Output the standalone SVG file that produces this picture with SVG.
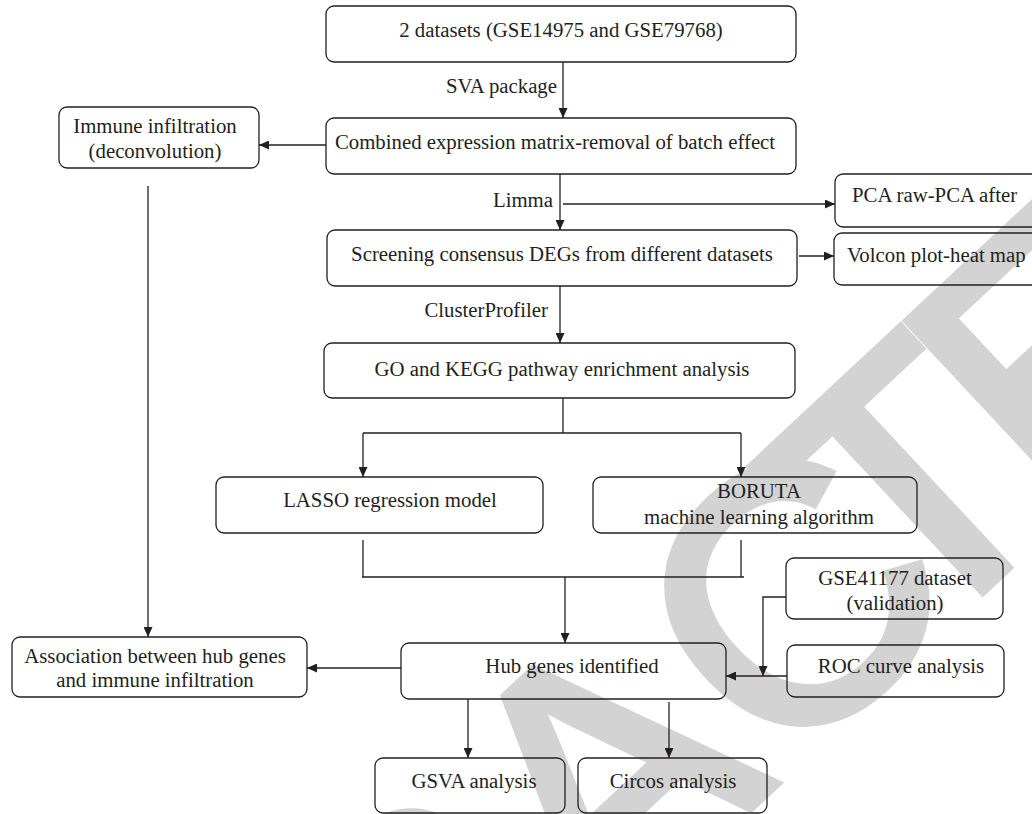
<svg xmlns="http://www.w3.org/2000/svg" width="1032" height="814" viewBox="0 0 1032 814">
<style>
.box{fill:none;stroke:#231f20;stroke-width:1.3}
.t{font-family:"Liberation Serif","Times New Roman",serif;font-size:20.8px;fill:#231f20}
.c{text-anchor:middle}
.e{text-anchor:end}
.ln{fill:none;stroke:#231f20;stroke-width:1.3}
.ar{marker-end:url(#ah)}
.wm{font-family:"Liberation Sans",Arial,sans-serif;font-size:360px;fill:#d3d3d3;stroke:#d3d3d3;stroke-width:10;stroke-linejoin:miter}
</style>
<defs>
<marker id="ah" viewBox="0 0 10 9" refX="10" refY="4.5" markerWidth="10" markerHeight="9" markerUnits="userSpaceOnUse" orient="auto">
<path d="M0,0 L10,4.5 L0,9 z" fill="#231f20"/>
</marker>
</defs>
<rect width="1032" height="814" fill="#ffffff"/>
<g id="watermark">
<text class="wm" transform="translate(876,690) rotate(-43)" x="-1357 -1097 -857 -637 -377 -130 53 246 486" y="0">RETRACTED</text>
</g>
<g id="connectors">
<path class="ln ar" d="M563,62 V118"/>
<path class="ln ar" d="M326,145 H259"/>
<path class="ln ar" d="M148,186 V637"/>
<path class="ln ar" d="M560,174 V230"/>
<path class="ln ar" d="M563,204 H835"/>
<path class="ln ar" d="M799,256 H834"/>
<path class="ln ar" d="M560,286 V343"/>
<path class="ln" d="M563,398 V433 M363,433 H741"/>
<path class="ln ar" d="M363,433 V477"/>
<path class="ln ar" d="M741,433 V477"/>
<path class="ln" d="M363,540 V577 M741,540 V577 M362,577 H744"/>
<path class="ln ar" d="M565,577 V643"/>
<path class="ln ar" d="M401,668 H307"/>
<path class="ln ar" d="M786,597 H763 V676"/>
<path class="ln ar" d="M787,676 H726"/>
<path class="ln ar" d="M468,699 V758"/>
<path class="ln ar" d="M669,702 V758"/>
</g>
<g id="datasets">
<rect class="box" x="326" y="6" width="470" height="56" rx="8"/>
<text class="t c" x="561" y="37">2 datasets (GSE14975 and GSE79768)</text>
</g>
<g id="sva-label"><text class="t e" x="557" y="93">SVA package</text></g>
<g id="combined">
<rect class="box" x="326" y="118" width="470" height="56" rx="8"/>
<text class="t c" x="555" y="149">Combined expression matrix-removal of batch effect</text>
</g>
<g id="immune">
<rect class="box" x="59" y="107" width="200" height="61" rx="8"/>
<text class="t c" x="155" y="133">Immune infiltration</text>
<text class="t c" x="155" y="158">(deconvolution)</text>
</g>
<g id="limma-label"><text class="t e" x="553" y="207">Limma</text></g>
<g id="pca">
<rect class="box" x="835" y="174" width="230" height="53" rx="8"/>
<text class="t" x="852" y="202">PCA raw-PCA after</text>
</g>
<g id="screening">
<rect class="box" x="327" y="230" width="470" height="56" rx="8"/>
<text class="t c" x="562" y="261">Screening consensus DEGs from different datasets</text>
</g>
<g id="volcon">
<rect class="box" x="834" y="233" width="230" height="52" rx="8"/>
<text class="t" x="847" y="262">Volcon plot-heat map</text>
</g>
<g id="cp-label"><text class="t e" x="548" y="317">ClusterProfiler</text></g>
<g id="go">
<rect class="box" x="324" y="343" width="471" height="55" rx="8"/>
<text class="t c" x="562" y="376">GO and KEGG pathway enrichment analysis</text>
</g>
<g id="lasso">
<rect class="box" x="216" y="477" width="327" height="56" rx="8"/>
<text class="t c" x="390" y="507">LASSO regression model</text>
</g>
<g id="boruta">
<rect class="box" x="593" y="477" width="324" height="56" rx="8"/>
<text class="t c" x="759" y="498">BORUTA</text>
<text class="t c" x="759" y="524">machine learning algorithm</text>
</g>
<g id="gse41177">
<rect class="box" x="786" y="558" width="217" height="61" rx="8"/>
<text class="t c" x="895" y="585">GSE41177 dataset</text>
<text class="t c" x="895" y="610">(validation)</text>
</g>
<g id="roc">
<rect class="box" x="787" y="645" width="217" height="52" rx="8"/>
<text class="t c" x="901" y="673">ROC curve analysis</text>
</g>
<g id="hub">
<rect class="box" x="401" y="643" width="325" height="56" rx="8"/>
<text class="t c" x="572" y="673">Hub genes identified</text>
</g>
<g id="association">
<rect class="box" x="12" y="637" width="295" height="60" rx="8"/>
<text class="t c" x="155" y="663">Association between hub genes</text>
<text class="t c" x="155" y="687">and immune infiltration</text>
</g>
<g id="gsva">
<rect class="box" x="375" y="758" width="190" height="55" rx="8"/>
<text class="t c" x="474" y="788">GSVA analysis</text>
</g>
<g id="circos">
<rect class="box" x="578" y="758" width="189" height="55" rx="8"/>
<text class="t c" x="673" y="788">Circos analysis</text>
</g>
</svg>
